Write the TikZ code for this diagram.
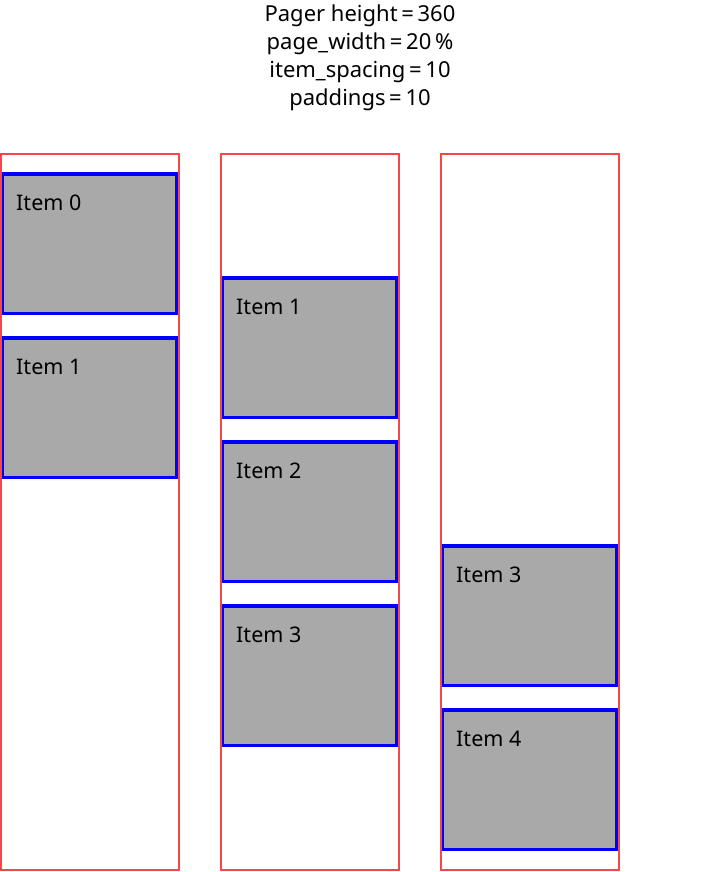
\documentclass[tikz,border=0pt]{standalone}
\usepackage{fontspec}
\setmainfont{Noto Sans}
\definecolor{pageRed}{RGB}{244,72,72}
\definecolor{itemGray}{RGB}{169,169,169}
\definecolor{itemBlue}{RGB}{0,0,255}
\tikzset{
  pageframe/.style={draw=pageRed, line width=2pt},
  itembox/.style={draw=itemBlue, fill=itemGray, line width=3.5pt},
  itemlabel/.style={anchor=base west, inner sep=0pt, font=\fontsize{21.5}{26}\selectfont},
  headline/.style={anchor=base, inner sep=0pt, font=\fontsize{22}{26}\selectfont}
}
% draw one item: #1 = page left edge, #2 = item top edge, #3 = label
\newcommand{\pageritem}[3]{%
  \draw[itembox] (#1+2.5,#2) rectangle (#1+176.5,#2+139.5);
  \node[itemlabel] at (#1+16,#2+36) {#3};
}
\begin{document}
\begin{tikzpicture}[x=1pt,y=-1pt]
\useasboundingbox (0,0) rectangle (720,872);

% header with the pager parameters
\node[headline] (h1) at (360,22) {Pager height\,=\,360};
\node[headline] (h2) at (360,50) {page\_width\,=\,20\,\%};
\node[headline] (h3) at (360,78) {item\_spacing\,=\,10};
\node[headline] (h4) at (360,106) {paddings\,=\,10};

% first page: items 0 and 1
\pageritem{0}{174}{Item 0}
\pageritem{0}{338}{Item 1}
\draw[pageframe] (1,154) rectangle (179,870);

% second page: items 1 to 3
\pageritem{220}{278}{Item 1}
\pageritem{220}{442}{Item 2}
\pageritem{220}{606}{Item 3}
\draw[pageframe] (221,154) rectangle (399,870);

% third page: items 3 and 4
\pageritem{440}{546}{Item 3}
\pageritem{440}{710}{Item 4}
\draw[pageframe] (441,154) rectangle (619,870);
\end{tikzpicture}
\end{document}
